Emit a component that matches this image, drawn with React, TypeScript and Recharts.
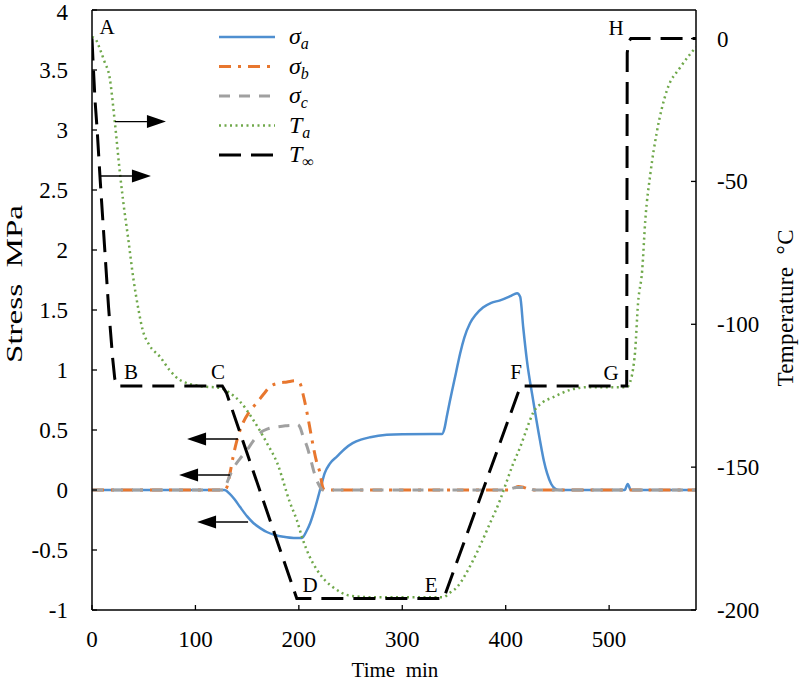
import {
  LineChart, Line, XAxis, YAxis, Legend, ReferenceLine, ReferenceDot,
} from 'recharts';

// time (min) / value pairs
const SA_TIME = [0, 128, 133, 138, 143, 150, 156, 163, 169, 177, 185, 195, 203, 207, 211, 215, 218.6, 222, 225, 230, 237, 244, 252, 260, 269, 285, 300, 338.5, 341, 343, 346, 349, 352, 356, 360, 365.5, 371, 378, 386, 394.6, 403, 408, 411, 414, 417, 420.5, 426.5, 433, 437, 440, 444, 448, 452, 515, 518, 521, 584];
const SA_VAL = [0, 0, -0.03, -0.08, -0.14, -0.22, -0.275, -0.32, -0.35, -0.375, -0.39, -0.4, -0.4, -0.35, -0.275, -0.17, -0.06, 0.05, 0.14, 0.22, 0.28, 0.34, 0.39, 0.42, 0.44, 0.46, 0.465, 0.467, 0.52, 0.61, 0.74, 0.86, 0.98, 1.14, 1.27, 1.39, 1.46, 1.52, 1.56, 1.58, 1.61, 1.63, 1.64, 1.61, 1.35, 1.08, 0.75, 0.42, 0.24, 0.14, 0.05, 0.01, 0, 0, 0.05, 0, 0];

const SB_TIME = [0, 128, 130.5, 133, 136.4, 140, 146, 152, 159.6, 166, 172, 180, 188.6, 196, 201, 204, 208, 211, 214, 217, 220.5, 223, 225, 405, 412, 418, 425, 584];
const SB_VAL = [0, 0, 0.025, 0.12, 0.275, 0.41, 0.56, 0.65, 0.73, 0.8, 0.86, 0.89, 0.9, 0.91, 0.89, 0.8, 0.64, 0.5, 0.36, 0.24, 0.14, 0.025, 0, 0, 0.03, 0.02, 0, 0];

const SC_TIME = [0, 128, 130.5, 136, 143, 149.6, 156, 162.5, 170, 179, 187, 194.5, 199, 201, 204, 208, 211, 214, 217, 220.5, 223, 400, 410, 420, 428, 584];
const SC_VAL = [0, 0, 0.06, 0.17, 0.26, 0.33, 0.41, 0.475, 0.51, 0.525, 0.535, 0.54, 0.545, 0.525, 0.45, 0.36, 0.27, 0.17, 0.09, 0.025, 0, 0, 0.02, 0.02, 0, 0];

const TA_TIME = [0, 3, 8, 12, 17, 22, 27, 30, 35, 40, 45, 49, 55, 66, 75, 85, 104, 124, 133, 143, 156, 169, 179, 191.5, 198, 204, 210, 217.6, 225, 233, 249.5, 269, 339.5, 346, 353, 362, 372, 385, 394.6, 401, 407, 414, 420, 426.5, 435, 446, 462, 480, 517, 520, 523, 525, 528, 532, 535, 540, 546, 556, 569, 584];
const TA_VAL = [0.5, 0, -4, -8, -13.5, -29, -47, -56.5, -70, -84, -95, -102, -107, -111.5, -116, -119.5, -121.6, -122.3, -124, -127, -133.5, -141.5, -148.5, -162.5, -168.5, -175.5, -181, -186, -189.5, -192, -195, -195.5, -195.5, -194, -192, -187, -180, -169.5, -161.5, -155, -149, -143, -137, -131, -127.5, -125.5, -123, -122, -122, -120.5, -116, -110, -92.5, -81, -63.5, -47, -33, -18, -10, -3];

const TI_TIME = [0, 1, 3, 5, 8, 12, 16, 20, 22, 24, 126, 130, 198, 340, 343, 412, 415, 517, 517.5, 519, 521, 584];
const TI_VAL = [0, -8, -22, -32, -50, -72, -94, -112, -119, -121.6, -121.6, -124, -196, -196, -193, -124, -121.6, -121.6, -5, -1, 0, 0];

const TIME_TICKS = [0, 100, 200, 300, 400, 500];
const STRESS_TICKS = [-1, -0.5, 0, 0.5, 1, 1.5, 2, 2.5, 3, 3.5, 4];
const TEMP_TICKS = [-200, -150, -100, -50, 0];

const POINT_LABELS = ['A', 'B', 'C', 'D', 'E', 'F', 'G', 'H'];
const POINT_TIME = [14.5, 37.7, 121.9, 210.8, 327.9, 410, 502, 506.8];
const POINT_STRESS = [3.858, 0.983, 0.983, -0.79, -0.79, 0.983, 0.975, 3.85];

const ARROW_TIME = [22.2, 7.7, 141.2, 133.5, 150.9];
const ARROW_STRESS = [3.07, 2.617, 0.425, 0.125, -0.267];
const ARROW_DIR = [1, 1, -1, -1, -1];

const zip = (ts: number[], vs: number[]) => ts.map((t, i) => ({ t, v: vs[i] }));

const SERIES = [
  { key: 'sa', sym: 'σ', sub: 'a', data: zip(SA_TIME, SA_VAL), axis: 'stress', color: '#4f8fd0', width: 2.5, dash: undefined },
  { key: 'sb', sym: 'σ', sub: 'b', data: zip(SB_TIME, SB_VAL), axis: 'stress', color: '#e8772e', width: 3, dash: '12 7 3 7' },
  { key: 'sc', sym: 'σ', sub: 'c', data: zip(SC_TIME, SC_VAL), axis: 'stress', color: '#a0a0a0', width: 3, dash: '11 9' },
  { key: 'ta', sym: 'T', sub: 'a', data: zip(TA_TIME, TA_VAL), axis: 'temp', color: '#6fa84a', width: 2.5, dash: '2 3.5' },
  { key: 'ti', sym: 'T', sub: '∞', data: zip(TI_TIME, TI_VAL), axis: 'temp', color: '#000000', width: 3, dash: '22 10' },
];

const FONT = '"Liberation Serif", "Times New Roman", serif';
const ARROW_LEN = 51;

const LegendBox = () => (
  <svg width={150} height={150} style={{ display: 'block' }}>
    {SERIES.map((s, i) => (
      <g key={s.key} transform={`translate(0, ${i * 29.5})`}>
        <line x1={4} x2={60} y1={17} y2={17} stroke={s.color} strokeWidth={s.width} strokeDasharray={s.dash} />
        <text x={74} y={24} fontFamily={FONT} fontStyle="italic" fontSize={24} fill="#000">
          {s.sym}
          <tspan fontSize={16} dy={5}>{s.sub}</tspan>
        </text>
      </g>
    ))}
  </svg>
);

const Arrow = ({ cx, cy, dir }: any) => {
  const tip = cx + dir * ARROW_LEN;
  const base = tip - dir * 19;
  return (
    <g>
      <line x1={cx} y1={cy} x2={base} y2={cy} stroke="#000" strokeWidth={1.4} />
      <polygon points={`${tip},${cy} ${base},${cy - 6.5} ${base},${cy + 6.5}`} fill="#000" />
    </g>
  );
};

const PointLetter = ({ cx, cy, text }: any) => (
  <text x={cx} y={cy} textAnchor="middle" dominantBaseline="central" fontFamily={FONT} fontSize={21} fill="#000">
    {text}
  </text>
);

// tick text drawn by hand so the serif font is sure to be used
const AxisTick = ({ x, y, payload, anchor, bottom }: any) => (
  <text x={x} y={y} dy={bottom ? '0.71em' : y < 16 ? '0.42em' : '0.35em'} textAnchor={anchor} fontFamily={FONT} fontSize={23} fill="#000">
    {payload.value}
  </text>
);

export default function App() {
  return (
    <div style={{ position: 'absolute', left: 0, top: 0, background: '#fff', fontFamily: FONT }}>
      <LineChart width={800} height={683} margin={{ top: 10, right: 0, bottom: 0, left: 0 }}>
        <XAxis
          type="number" dataKey="t" domain={[0, 584]} ticks={TIME_TICKS} allowDataOverflow
          height={73} tickSize={-5} tickMargin={26}
          tick={(p: any) => <AxisTick {...p} anchor="middle" bottom />}
          axisLine={{ stroke: '#000', strokeWidth: 1.5 }} tickLine={{ stroke: '#000', strokeWidth: 1.3 }}
          label={{
            content: () => (
              <text x={395} y={677} textAnchor="middle" fontFamily={FONT} fontSize={21} fill="#000">
                Time{'\u00a0\u00a0'}min
              </text>
            ),
          }}
        />
        <YAxis
          yAxisId="stress" type="number" domain={[-1, 4]} ticks={STRESS_TICKS} allowDataOverflow
          width={92} tickSize={-5} tickMargin={29}
          tick={(p: any) => <AxisTick {...p} anchor="end" />}
          axisLine={{ stroke: '#000', strokeWidth: 1.5 }} tickLine={{ stroke: '#000', strokeWidth: 1.3 }}
          label={{
            content: () => (
              <text x={22} y={284} transform="rotate(-90, 22, 284)" textAnchor="middle" fontFamily={FONT} fontSize={24} fill="#000"
                textLength={158} lengthAdjust="spacingAndGlyphs">
                Stress{'\u00a0\u00a0'}MPa
              </text>
            ),
          }}
        />
        <YAxis
          yAxisId="temp" orientation="right" type="number" domain={[-200, 10]} ticks={TEMP_TICKS} allowDataOverflow
          width={104} tickSize={-5} tickMargin={26}
          tick={(p: any) => <AxisTick {...p} anchor="start" />}
          axisLine={{ stroke: '#000', strokeWidth: 1.5 }} tickLine={{ stroke: '#000', strokeWidth: 1.3 }}
          label={{
            content: () => (
              <text x={793} y={308} transform="rotate(-90, 793, 308)" textAnchor="middle" fontFamily={FONT} fontSize={23} fill="#000"
                textLength={157} lengthAdjust="spacing">
                Temperature{'\u00a0\u00a0'}°C
              </text>
            ),
          }}
        />
        <ReferenceLine yAxisId="stress" y={4} stroke="#000" strokeWidth={1.5} ifOverflow="extendDomain" />

        {SERIES.map((s) => (
          <Line
            key={s.key} data={s.data} dataKey="v" yAxisId={s.axis} type={s.key === 'ti' ? 'linear' : 'monotone'}
            stroke={s.color} strokeWidth={s.width} strokeDasharray={s.dash} dot={false}
            activeDot={false} isAnimationActive={false} legendType="none"
          />
        ))}

        {POINT_LABELS.map((p, i) => (
          <ReferenceDot key={p} yAxisId="stress" x={POINT_TIME[i]} y={POINT_STRESS[i]} r={0}
            shape={(props: any) => <PointLetter {...props} text={p} />} />
        ))}
        {ARROW_TIME.map((t, i) => (
          <ReferenceDot key={`arrow-${i}`} yAxisId="stress" x={t} y={ARROW_STRESS[i]} r={0}
            shape={(props: any) => <Arrow {...props} dir={ARROW_DIR[i]} />} />
        ))}

        <Legend
          layout="vertical" align="center" verticalAlign="middle"
          wrapperStyle={{ left: 215, top: 20, width: 150, height: 150 }}
          content={() => <LegendBox />}
        />
      </LineChart>
    </div>
  );
}
